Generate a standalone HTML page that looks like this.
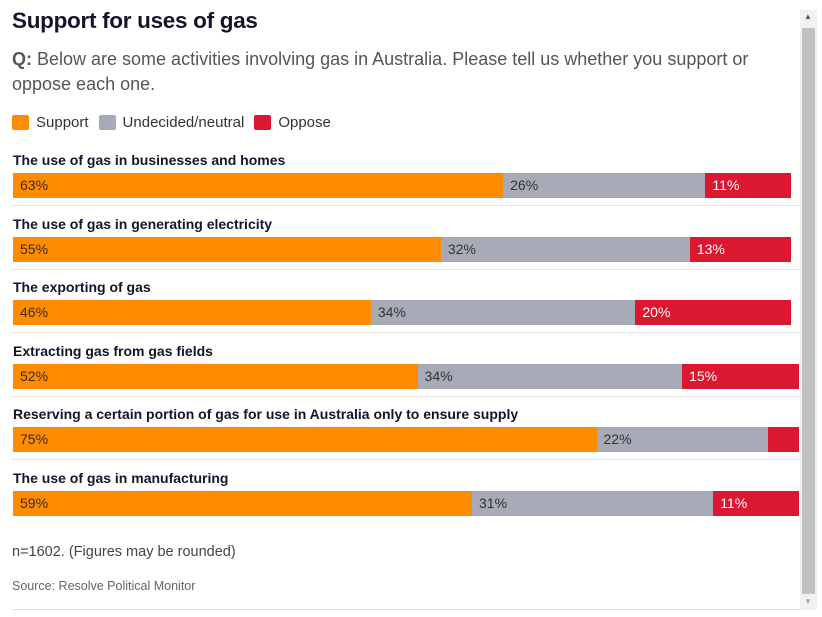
<!DOCTYPE html>
<html><head><meta charset="utf-8">
<style>
body{margin:0;width:822px;height:617px;background:#fff;font-family:"Liberation Sans",sans-serif;position:relative;overflow:hidden}
#title{position:absolute;left:12px;top:8px;font-size:22.5px;font-weight:bold;color:#14142b;letter-spacing:-0.3px}
#q{position:absolute;left:12px;top:47px;width:780px;font-size:18px;line-height:25px;color:#555}
#q b{color:#555}
#legend{position:absolute;left:12px;top:114px;font-size:15px;color:#333;display:flex;gap:10px}
.li{display:flex;align-items:center;gap:7px}
.sw{width:17px;height:15px;border-radius:2px}
.lab{position:absolute;left:13px;font-size:14px;font-weight:bold;color:#14142b}
.seg{position:absolute;height:25px;font-size:14px;line-height:25px;box-sizing:border-box;padding-left:7px;white-space:nowrap;overflow:hidden}
.sep{position:absolute;left:13px;width:786px;border-top:1px dotted #ccc}
#note{position:absolute;left:12px;top:544px;font-size:14.5px;color:#444}
#src{position:absolute;left:12px;top:579px;font-size:12.5px;color:#666}
#bottom{position:absolute;left:12px;top:609px;width:788px;border-top:1px solid #ddd}
#track{position:absolute;left:800px;top:10px;width:17px;height:600px;background:#f1f1f1}
#thumb{position:absolute;left:802px;top:28px;width:13px;height:566px;background:#c1c1c1}
.arr{position:absolute;left:804px;font-size:8px;color:#555}
</style></head><body>
<div id="title">Support for uses of gas</div>
<div id="q"><b>Q:</b> Below are some activities involving gas in Australia. Please tell us whether you support or oppose each one.</div>
<div id="legend">
<div class="li"><div class="sw" style="background:#ff8c00"></div>Support</div>
<div class="li"><div class="sw" style="background:#a6abb7"></div>Undecided/neutral</div>
<div class="li"><div class="sw" style="background:#dc1730"></div>Oppose</div>
</div>
<div id="chart"></div>
<div id="note">n=1602. (Figures may be rounded)</div>
<div id="src">Source: Resolve Political Monitor</div>
<div id="bottom"></div>
<div id="track"></div>
<div id="thumb"></div>
<div class="arr" style="top:12px">▲</div>
<div class="arr" style="top:597px;color:#aaa">▼</div>
<script>
const categories=["The use of gas in businesses and homes","The use of gas in generating electricity","The exporting of gas","Extracting gas from gas fields","Reserving a certain portion of gas for use in Australia only to ensure supply","The use of gas in manufacturing"];
const support=[63,55,46,52,75,59];
const neutral=[26,32,34,34,22,31];
const oppose=[11,13,20,15,4,11];
const chart=document.getElementById('chart');
const x0=13,pxPer=7.78,maxX=799;
function xs(v){return Math.min(maxX,x0+v*pxPer);}
categories.forEach((c,i)=>{
  const top=173+i*63.6;
  const l=document.createElement('div');l.className='lab';l.style.top=(top-21)+'px';l.textContent=c;
  
  
  chart.appendChild(l);
  const segs=[[support[i],'#ff8c00','#3a2a10'],[neutral[i],'#a6abb7','#333'],[oppose[i],'#dc1730','#fff']];
  let acc=0;
  segs.forEach((s,j)=>{
    const a=xs(acc),b=xs(acc+s[0]);acc+=s[0];
    const d=document.createElement('div');d.className='seg';
    d.style.left=a+'px';d.style.width=(b-a)+'px';d.style.top=top+'px';
    d.style.background=s[1];d.style.color=s[2];
    d.textContent=s[0]>=8?s[0]+'%':'';
    
    
    chart.appendChild(d);
  });
  if(i<5){const sp=document.createElement('div');sp.className='sep';sp.style.top=(top+32)+'px';
  
  
  chart.appendChild(sp);}
});
</script>
</body></html>
